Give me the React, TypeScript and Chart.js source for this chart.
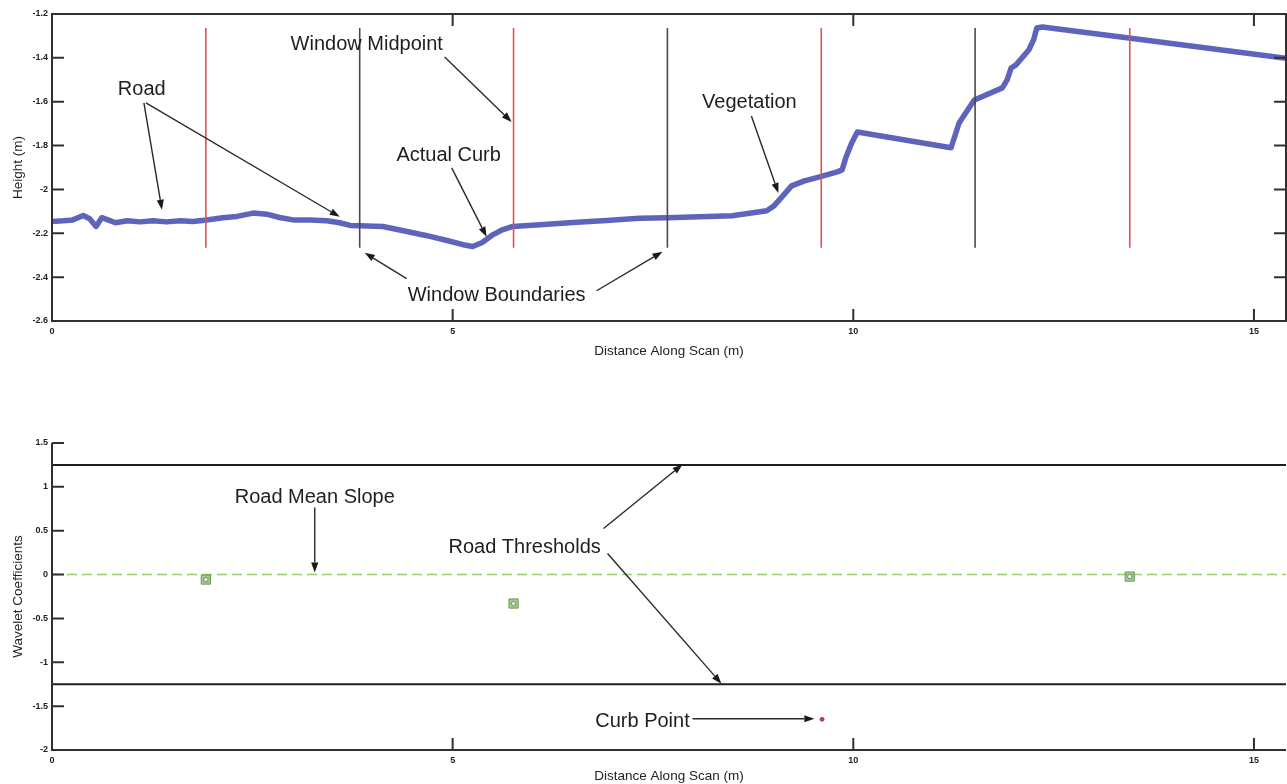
import React, { useEffect, useRef } from "react";
import { Chart, registerables } from "chart.js";

Chart.register(...registerables);

// ---------- Data ----------
const xRange = [0, 15.4];

// Top panel: scan profile
const scanDistance = [
  0.0, 0.14, 0.26, 0.39, 0.47, 0.55, 0.62, 0.7, 0.79, 0.94, 1.1, 1.26, 1.43, 1.6, 1.76, 1.93,
  2.13, 2.31, 2.51, 2.68, 2.84, 3.01, 3.22, 3.43, 3.59, 3.72, 3.84, 4.13, 4.43, 4.68, 4.93,
  5.13, 5.25, 5.37, 5.5, 5.62, 5.75, 6.09, 6.5, 6.92, 7.33, 7.68, 8.08, 8.49, 8.92, 9.01,
  9.11, 9.23, 9.39, 9.58, 9.8, 9.86, 9.91, 9.98, 10.05, 11.22, 11.32, 11.51, 11.86, 11.92,
  11.97, 12.03, 12.19, 12.25, 12.29, 12.36, 13.44, 15.4,
];
const scanHeight = [
  -2.146, -2.143, -2.139, -2.119, -2.134, -2.169, -2.129, -2.139, -2.152, -2.143, -2.148,
  -2.143, -2.148, -2.143, -2.146, -2.139, -2.129, -2.123, -2.108, -2.113, -2.128, -2.139,
  -2.139, -2.143, -2.152, -2.164, -2.166, -2.169, -2.192, -2.211, -2.233, -2.252, -2.26,
  -2.242, -2.207, -2.184, -2.169, -2.161, -2.151, -2.142, -2.131, -2.129, -2.125, -2.12,
  -2.097, -2.075, -2.034, -1.984, -1.961, -1.943, -1.92, -1.911, -1.852, -1.788, -1.738,
  -1.81, -1.697, -1.592, -1.537, -1.5, -1.446, -1.432, -1.364, -1.318, -1.264, -1.259,
  -1.309, -1.402,
];
const windowMidpoints = [1.92, 5.76, 9.6, 13.45];
const windowBoundaries = [3.84, 7.68, 11.52];
const windowLineSpan = [-2.266, -1.264];
const topXTicks = [0, 5, 10, 15];
const topYTicks = [-2.6, -2.4, -2.2, -2, -1.8, -1.6, -1.4, -1.2];

// Bottom panel: wavelet coefficients
const waveletX = [1.92, 5.76, 13.45];
const waveletY = [-0.057, -0.33, -0.023];
const curbX = [9.61];
const curbY = [-1.65];
const roadThresholds = [1.25, -1.25];
const roadMeanSlope = 0;
const bottomXTicks = [0, 5, 10, 15];
const bottomYTicks = [-2, -1.5, -1, -0.5, 0, 0.5, 1, 1.5];

// Annotations (data units)
const topLabels = [
  { text: "Road", x: 1.12, y: -1.546 },
  { text: "Window Midpoint", x: 3.928, y: -1.337 },
  { text: "Actual Curb", x: 4.95, y: -1.847 },
  { text: "Vegetation", x: 8.703, y: -1.605 },
  { text: "Window Boundaries", x: 5.549, y: -2.485 },
];
const topArrows = [
  { x0: 1.147, y0: -1.605, x1: 1.372, y1: -2.093 },
  { x0: 1.172, y0: -1.605, x1: 3.591, y1: -2.125 },
  { x0: 4.9, y0: -1.396, x1: 5.736, y1: -1.692 },
  { x0: 4.988, y0: -1.902, x1: 5.424, y1: -2.216 },
  { x0: 8.728, y0: -1.665, x1: 9.065, y1: -2.016 },
  { x0: 4.426, y0: -2.407, x1: 3.903, y1: -2.289 },
  { x0: 6.796, y0: -2.462, x1: 7.618, y1: -2.284 },
];
const bottomLabels = [
  { text: "Road Mean Slope", x: 3.279, y: 0.879 },
  { text: "Road Thresholds", x: 5.898, y: 0.308 },
  { text: "Curb Point", x: 7.369, y: -1.678 },
];
const bottomArrows = [
  { x0: 3.279, y0: 0.765, x1: 3.279, y1: 0.023 },
  { x0: 6.883, y0: 0.525, x1: 7.868, y1: 1.256 },
  { x0: 6.933, y0: 0.24, x1: 8.354, y1: -1.244 },
  { x0: 7.993, y0: -1.644, x1: 9.514, y1: -1.644 },
];

// ---------- Helpers ----------
const FONT = '"Liberation Sans", Arial, Helvetica, sans-serif';

type Label = { text: string; x: number; y: number };
type Arrow = { x0: number; y0: number; x1: number; y1: number };

function makeDecor(box: boolean, labels: Label[], arrows: Arrow[]) {
  return {
    id: "decor",
    afterDatasetsDraw(chart: any) {
      const { ctx, chartArea: a, scales } = chart;
      const xs = scales.x;
      const ys = scales.y;
      ctx.save();
      // frame
      ctx.strokeStyle = "#303030";
      ctx.lineWidth = 2;
      ctx.beginPath();
      if (box) {
        ctx.rect(a.left, a.top, a.right - a.left, a.bottom - a.top);
      } else {
        ctx.moveTo(a.left, a.top);
        ctx.lineTo(a.left, a.bottom);
        ctx.lineTo(a.right, a.bottom);
      }
      ctx.stroke();
      // inward ticks
      const tl = 12;
      ctx.beginPath();
      for (const t of xs.ticks) {
        const px = xs.getPixelForValue(t.value);
        ctx.moveTo(px, a.bottom);
        ctx.lineTo(px, a.bottom - tl);
        if (box) {
          ctx.moveTo(px, a.top);
          ctx.lineTo(px, a.top + tl);
        }
      }
      for (const t of ys.ticks) {
        const py = ys.getPixelForValue(t.value);
        ctx.moveTo(a.left, py);
        ctx.lineTo(a.left + tl, py);
        if (box) {
          ctx.moveTo(a.right, py);
          ctx.lineTo(a.right - tl, py);
        }
      }
      ctx.stroke();
      // arrows
      ctx.strokeStyle = "#2a2a2a";
      ctx.fillStyle = "#1a1a1a";
      ctx.lineWidth = 1.4;
      for (const ar of arrows) {
        const x0 = xs.getPixelForValue(ar.x0);
        const y0 = ys.getPixelForValue(ar.y0);
        const x1 = xs.getPixelForValue(ar.x1);
        const y1 = ys.getPixelForValue(ar.y1);
        const ang = Math.atan2(y1 - y0, x1 - x0);
        const hl = 10;
        const hw = 3.6;
        const bx = x1 - hl * Math.cos(ang);
        const by = y1 - hl * Math.sin(ang);
        ctx.beginPath();
        ctx.moveTo(x0, y0);
        ctx.lineTo(bx, by);
        ctx.stroke();
        ctx.beginPath();
        ctx.moveTo(x1, y1);
        ctx.lineTo(bx + hw * Math.sin(ang), by - hw * Math.cos(ang));
        ctx.lineTo(bx - hw * Math.sin(ang), by + hw * Math.cos(ang));
        ctx.closePath();
        ctx.fill();
      }
      // labels
      ctx.fillStyle = "#1e1e1e";
      ctx.font = `20px ${FONT}`;
      ctx.textAlign = "center";
      ctx.textBaseline = "middle";
      for (const lb of labels) {
        ctx.fillText(lb.text, xs.getPixelForValue(lb.x), ys.getPixelForValue(lb.y));
      }
      ctx.restore();
    },
  };
}

const tickFont = { size: 9, family: FONT, weight: "bold" as const };
const titleFont = { size: 13.5, family: FONT };

function xScale(ticks: number[], height: number, titlePadBottom: number) {
  return {
    type: "linear" as const,
    min: xRange[0],
    max: xRange[1],
    afterBuildTicks: (s: any) => {
      s.ticks = ticks.map((v) => ({ value: v }));
    },
    afterFit: (s: any) => {
      s.height = height;
    },
    grid: { display: false, drawTicks: false },
    border: { display: false },
    ticks: { font: tickFont, color: "#222", padding: 5, maxRotation: 0, callback: (v: any) => String(v) },
    title: {
      display: true,
      text: "Distance Along Scan (m)",
      font: titleFont,
      color: "#222",
      padding: { top: 0, bottom: titlePadBottom },
    },
  };
}

function yScale(min: number, max: number, ticks: number[], title: string) {
  return {
    type: "linear" as const,
    min,
    max,
    afterBuildTicks: (s: any) => {
      s.ticks = ticks.map((v) => ({ value: v }));
    },
    afterFit: (s: any) => {
      s.width = 52;
    },
    grid: { display: false, drawTicks: false },
    border: { display: false },
    ticks: { font: tickFont, color: "#222", padding: 4, callback: (v: any) => String(v) },
    title: { display: true, text: title, font: titleFont, color: "#222", padding: { top: 10, bottom: 0 } },
  };
}

function vLine(x: number, color: string) {
  return {
    type: "line" as const,
    data: [
      { x, y: windowLineSpan[0] },
      { x, y: windowLineSpan[1] },
    ],
    borderColor: color,
    borderWidth: 1.6,
    pointRadius: 0,
    order: 0,
  };
}

function hLine(y: number, color: string, width: number, dash: number[] = []) {
  return {
    type: "line" as const,
    data: [
      { x: xRange[0], y },
      { x: xRange[1], y },
    ],
    borderColor: color,
    borderWidth: width,
    borderDash: dash,
    pointRadius: 0,
    order: 3,
  };
}

export default function App() {
  const topRef = useRef<HTMLCanvasElement>(null);
  const botRef = useRef<HTMLCanvasElement>(null);

  useEffect(() => {
    const common = {
      animation: false as const,
      responsive: true,
      maintainAspectRatio: false,
      events: [] as any[],
      plugins: { legend: { display: false }, tooltip: { enabled: false } },
    };

    const top = new Chart(topRef.current!, {
      type: "line",
      data: {
        datasets: [
          ...windowMidpoints.map((x) => vLine(x, "#e2504f")),
          ...windowBoundaries.map((x) => vLine(x, "#4a4a4a")),
          {
            type: "line",
            data: scanDistance.map((x, i) => ({ x, y: scanHeight[i] })),
            borderColor: "rgba(72, 78, 178, 0.88)",
            borderWidth: 5.5,
            borderJoinStyle: "round",
            borderCapStyle: "round",
            tension: 0,
            pointRadius: 0,
            order: 1,
          } as any,
        ],
      },
      options: {
        ...common,
        layout: { autoPadding: false, padding: { top: 14, left: 0, right: 1, bottom: 0 } },
        scales: {
          x: xScale(topXTicks, 44, 6),
          y: yScale(-2.6, -1.2, topYTicks, "Height (m)"),
        },
      } as any,
      plugins: [makeDecor(true, topLabels, topArrows)],
    });

    const bottom = new Chart(botRef.current!, {
      type: "line",
      data: {
        datasets: [
          {
            type: "scatter",
            data: waveletX.map((x, i) => ({ x, y: waveletY[i] })),
            pointStyle: "circle",
            pointRadius: 2.2,
            pointBorderWidth: 1,
            pointBorderColor: "#6f7f9a",
            pointBackgroundColor: "rgba(240,245,250,0.9)",
            showLine: false,
            order: 0,
          },
          {
            type: "scatter",
            data: waveletX.map((x, i) => ({ x, y: waveletY[i] })),
            pointStyle: "rect",
            pointRadius: 6.5,
            pointBorderWidth: 1,
            pointBorderColor: "#6c9c4c",
            pointBackgroundColor: "rgba(140, 190, 100, 0.8)",
            showLine: false,
            order: 1,
          },
          {
            type: "scatter",
            data: curbX.map((x, i) => ({ x, y: curbY[i] })),
            pointStyle: "circle",
            pointRadius: 2.4,
            pointBorderWidth: 0,
            pointBackgroundColor: "#c4345c",
            showLine: false,
            order: 1,
          },
          ...roadThresholds.map((t) => hLine(t, "#1e1e1e", 2)),
          hLine(roadMeanSlope, "#9acd6e", 1.6, [10, 5]),
        ] as any,
      },
      options: {
        ...common,
        layout: { autoPadding: false, padding: { top: 43, left: 0, right: 1, bottom: 0 } },
        scales: {
          x: xScale(bottomXTicks, 34, 0),
          y: yScale(-2, 1.5, bottomYTicks, "Wavelet Coefficients"),
        },
      } as any,
      plugins: [makeDecor(false, bottomLabels, bottomArrows)],
    });

    return () => {
      top.destroy();
      bottom.destroy();
    };
  }, []);

  return (
    <div style={{ position: "fixed", left: 0, top: 0, width: 1287, height: 784, background: "#fff" }}>
      <div style={{ position: "absolute", left: 0, top: 0, width: 1287, height: 365 }}>
        <canvas ref={topRef} />
      </div>
      <div style={{ position: "absolute", left: 0, top: 400, width: 1287, height: 384 }}>
        <canvas ref={botRef} />
      </div>
    </div>
  );
}
